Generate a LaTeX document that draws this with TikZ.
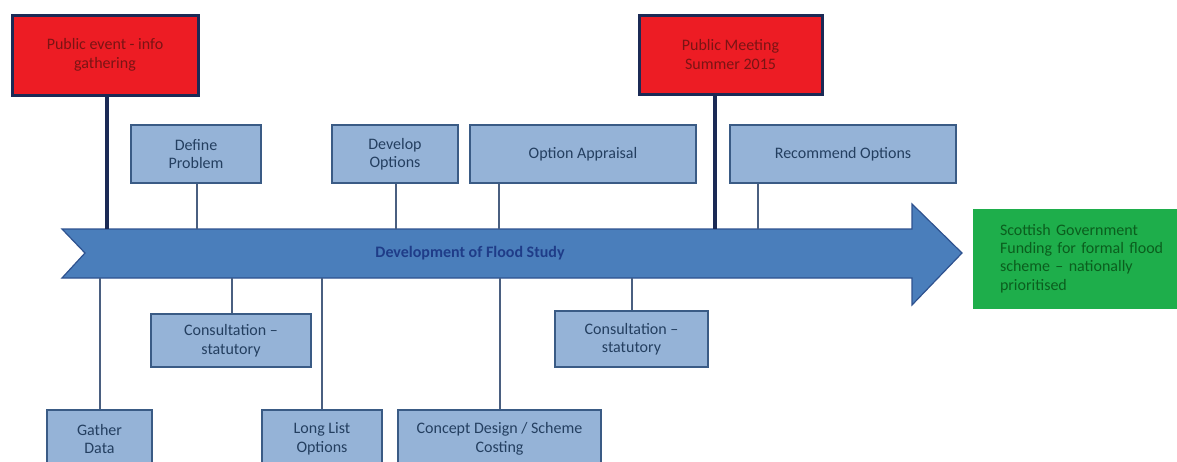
\documentclass[tikz,border=0pt]{standalone}
\usepackage{fontspec}
\setmainfont{Carlito}
\definecolor{boxfill}{HTML}{95B3D7}
\definecolor{boxline}{HTML}{3A5B85}
\definecolor{boxtext}{HTML}{243F60}
\definecolor{arrfill}{HTML}{4A7EBB}
\definecolor{arrline}{HTML}{2E528F}
\definecolor{redfill}{HTML}{ED1C24}
\definecolor{redline}{HTML}{1B2A55}
\definecolor{redtext}{HTML}{7A1414}
\definecolor{greenfill}{HTML}{1EAE4B}
\definecolor{greentext}{HTML}{0B5E1E}
\definecolor{lbltext}{HTML}{1F3C88}
\definecolor{stemthin}{HTML}{4A5F80}
\begin{document}
\begin{tikzpicture}[x=1pt,y=1pt,
  taskbox/.style={draw=boxline,fill=boxfill,line width=1.6pt,text=boxtext,align=center,
    inner sep=2pt,font=\fontsize{16}{18.5}\selectfont},
  eventbox/.style={draw=redline,fill=redfill,line width=3pt,text=redtext,align=center,
    inner sep=2pt,font=\fontsize{16}{18.5}\selectfont},
  goalbox/.style={fill=greenfill,text=greentext,align=left,inner ysep=0pt,inner xsep=27pt,
    font=\fontsize{16}{18.3}\selectfont},
  thinstem/.style={draw=stemthin,line width=1.6pt},
  thickstem/.style={draw=redline,line width=4.5pt},
]
\useasboundingbox (0,0) rectangle (1177,-461);
\clip (0,0) rectangle (1177,-461);

% main arrow
\draw[fill=arrfill,draw=arrline,line width=1.2pt]
  (62,-229) -- (912,-229) -- (912,-204) -- (962,-253) -- (912,-305) -- (912,-278)
  -- (62,-278) -- (85,-253) -- cycle;
\node[font=\fontsize{16}{18}\selectfont\bfseries,text=lbltext] (lbl) at (470,-253) {Development of Flood Study};

% attachment points on arrow
\coordinate (t1) at (107,-229);
\coordinate (t2) at (197,-229);
\coordinate (t3) at (396,-229);
\coordinate (t4) at (499,-229);
\coordinate (t5) at (715,-229);
\coordinate (t6) at (758,-229);
\coordinate (b1) at (100,-278);
\coordinate (b2) at (232,-278);
\coordinate (b3) at (322,-278);
\coordinate (b4) at (500,-278);
\coordinate (b5) at (632,-278);

% upper boxes
\node[eventbox,minimum width=186pt,minimum height=80pt] (ev1) at (105,-55) {Public event - info\\gathering};
\node[eventbox,minimum width=183pt,minimum height=79pt] (pm) at (730.5,-54.5) {Public Meeting\\Summer 2015};
\node[taskbox,minimum width=130pt,minimum height=58pt] (def) at (196,-154) {Define\\Problem};
\node[taskbox,minimum width=126pt,minimum height=58pt] (dev) at (395,-154) {Develop\\Options};
\node[taskbox,minimum width=226pt,minimum height=58pt] (app) at (583,-154) {Option Appraisal};
\node[taskbox,minimum width=226pt,minimum height=58pt] (rec) at (843,-154) {Recommend Options};

% lower boxes
\node[taskbox,minimum width=160pt,minimum height=53pt] (con1) at (231,-340.5) {Consultation --\\statutory};
\node[taskbox,minimum width=153pt,minimum height=56pt] (con2) at (631.5,-339) {Consultation --\\statutory};
\node[taskbox,minimum width=105pt,minimum height=58pt] (gat) at (99.5,-439) {Gather\\Data};
\node[taskbox,minimum width=120pt,minimum height=58pt] (lng) at (322,-439) {Long List\\Options};
\node[taskbox,minimum width=203pt,minimum height=58pt] (cds) at (499.5,-439) {Concept Design / Scheme\\Costing};

% goal box
\node[goalbox,minimum height=100pt,text width=173pt] (goal) at (1086.5,-258.5)
  {Scottish Government\\Funding for formal flood\\scheme -- nationally\\prioritised};

% thick stems between box and arrow
\draw[thickstem] (ev1.south -| t1) -- (t1);
\draw[thickstem] (pm.south -| t5) -- (t5);

% thin stems
\draw[thinstem] (def.south -| t2) -- (t2);
\draw[thinstem] (dev.south -| t3) -- (t3);
\draw[thinstem] (app.south -| t4) -- (t4);
\draw[thinstem] (rec.south -| t6) -- (t6);
\draw[thinstem] (b1) -- (gat.north -| b1);
\draw[thinstem] (b2) -- (con1.north -| b2);
\draw[thinstem] (b3) -- (lng.north -| b3);
\draw[thinstem] (b4) -- (cds.north -| b4);
\draw[thinstem] (b5) -- (con2.north -| b5);
\end{tikzpicture}
\end{document}
